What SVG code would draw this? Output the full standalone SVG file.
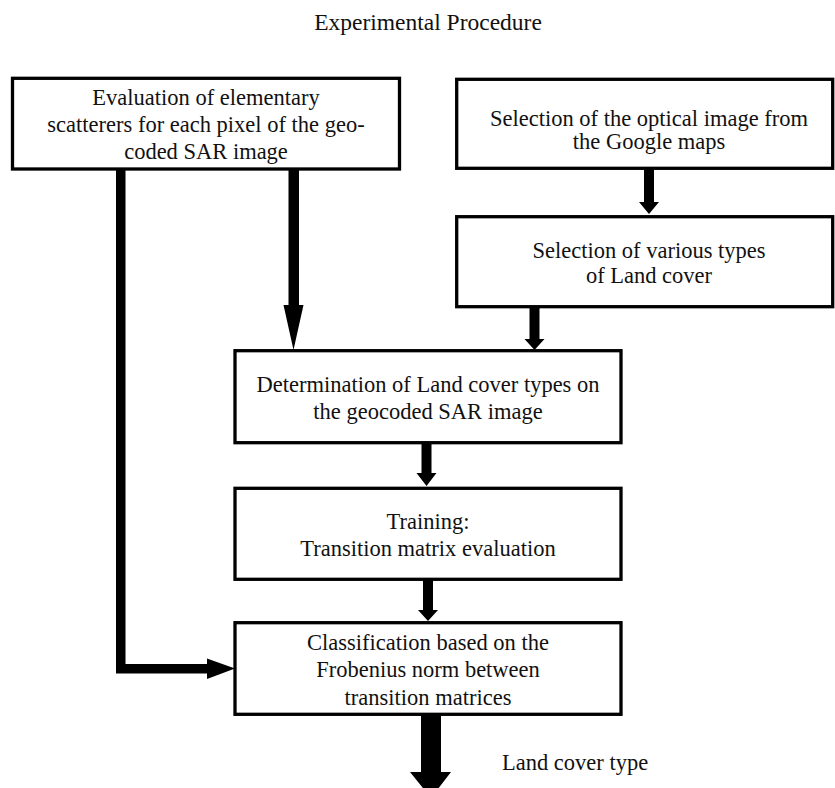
<svg xmlns="http://www.w3.org/2000/svg" width="835" height="788" viewBox="0 0 835 788" font-family="'Liberation Serif', 'Times New Roman', Times, serif">
<style>
.box{fill:#fff;stroke:#000;stroke-width:3.3}
.t{font-family:'Liberation Serif','Times New Roman',Times,serif;font-size:22.5px;fill:#111;text-anchor:middle}
.conn{fill:#000;stroke:none}
</style>
<rect width="835" height="788" fill="#fff"/>
<text id="title" class="t" x="428" y="30" style="font-size:23.5px">Experimental Procedure</text>
<g id="connectors">
<path class="conn" d="M644,169 H654 V202 H659 L649,214 L639,202 H644 Z"/>
<path class="conn" d="M529.5,307 H539.5 V339 H544.5 L534.5,350 L524.5,339 H529.5 Z"/>
<path class="conn" d="M288.5,169 H299 V305 H303.5 L293.5,350 L283.5,305 H288.5 Z"/>
<path class="conn" d="M421.5,443 H431.5 V473 H436.5 L426.5,486 L416.5,473 H421.5 Z"/>
<path class="conn" d="M423,579 H433 V610 H438 L428,621 L418,610 H423 Z"/>
<path class="conn" d="M116,169 H125.5 V664 H207 V658.5 L235,668.5 L207,679 V673.5 H116 Z"/>
<path class="conn" d="M421,714 H441 V772 H451 L431,798 L410,772 H421 Z"/>
</g>
<g id="n1">
<rect class="box" x="12.5" y="78.3" width="387" height="90.7"/>
<text class="t" x="206" y="105">Evaluation of elementary</text>
<text class="t" x="206" y="132">scatterers for each pixel of the geo-</text>
<text class="t" x="206" y="159">coded SAR image</text>
</g>
<g id="n2">
<rect class="box" x="456.7" y="79.3" width="376" height="89"/>
<text class="t" x="649" y="126">Selection of the optical image from</text>
<text class="t" x="649" y="149">the Google maps</text>
</g>
<g id="n3">
<rect class="box" x="456.7" y="216.7" width="376" height="90"/>
<text class="t" x="649" y="258">Selection of various types</text>
<text class="t" x="649" y="283">of Land cover</text>
</g>
<g id="n4">
<rect class="box" x="235" y="350.7" width="386" height="92"/>
<text class="t" x="428" y="392">Determination of Land cover types on</text>
<text class="t" x="428" y="419">the geocoded SAR image</text>
</g>
<g id="n5">
<rect class="box" x="235" y="488.3" width="386" height="91"/>
<text class="t" x="428" y="529">Training:</text>
<text class="t" x="428" y="556">Transition matrix evaluation</text>
</g>
<g id="n6">
<rect class="box" x="235" y="622.7" width="386" height="91.6"/>
<text class="t" x="428" y="650">Classification based on the</text>
<text class="t" x="428" y="677">Frobenius norm between</text>
<text class="t" x="428" y="705">transition matrices</text>
</g>
<text id="out" class="t" x="502" y="770" style="text-anchor:start">Land cover type</text>
</svg>
